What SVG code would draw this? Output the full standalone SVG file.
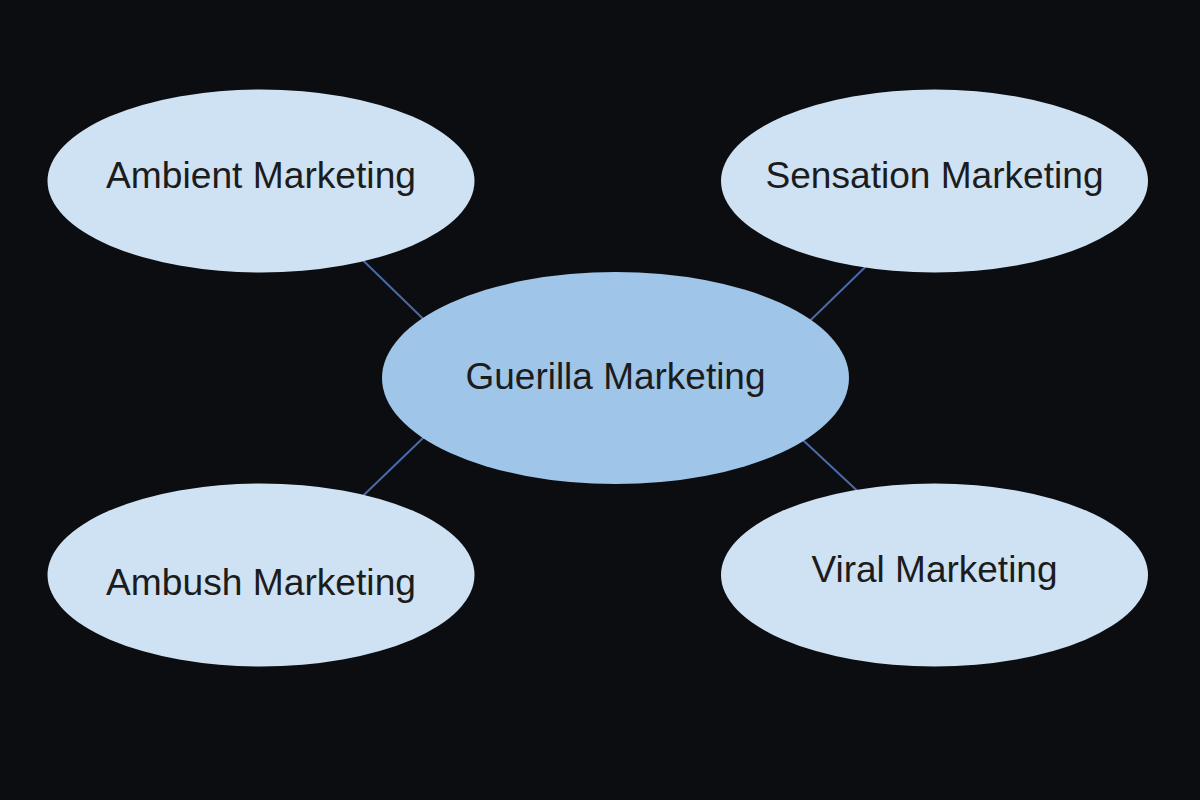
<svg xmlns="http://www.w3.org/2000/svg" width="1200" height="800" viewBox="0 0 1200 800">
<style>
.bg{fill:#0c0d10}
.leaf{fill:#cfe2f3}
.hub{fill:#9fc5e8}
.lbl{font-family:"Liberation Sans",Arial,sans-serif;font-size:36px;fill:#1c1c1c;text-anchor:middle}
.edge{stroke:#4a6aa8;stroke-width:2;fill:none}
</style>
<rect class="bg" x="0" y="0" width="1200" height="800"/>
<g id="connectors">
<line class="edge" x1="340" y1="238" x2="450" y2="345"/>
<line class="edge" x1="890" y1="243" x2="785" y2="345"/>
<line class="edge" x1="450" y1="412" x2="340" y2="518"/>
<line class="edge" x1="775" y1="414" x2="880" y2="512"/>
</g>
<g id="node-center">
<ellipse class="hub" cx="615.5" cy="378" rx="233.5" ry="106"/>
<text class="lbl" x="615.5" y="389" textLength="300" lengthAdjust="spacingAndGlyphs">Guerilla Marketing</text>
</g>
<g id="node-ambient">
<ellipse class="leaf" cx="261" cy="181" rx="213.5" ry="91.5"/>
<text class="lbl" x="261" y="188" textLength="310" lengthAdjust="spacingAndGlyphs">Ambient Marketing</text>
</g>
<g id="node-sensation">
<ellipse class="leaf" cx="934.5" cy="181" rx="213.5" ry="91.5"/>
<text class="lbl" x="934.5" y="188" textLength="338" lengthAdjust="spacingAndGlyphs">Sensation Marketing</text>
</g>
<g id="node-ambush">
<ellipse class="leaf" cx="261" cy="575" rx="213.5" ry="91.5"/>
<text class="lbl" x="261" y="595" textLength="310" lengthAdjust="spacingAndGlyphs">Ambush Marketing</text>
</g>
<g id="node-viral">
<ellipse class="leaf" cx="934.5" cy="575" rx="213.5" ry="91.5"/>
<text class="lbl" x="934.5" y="582" textLength="246" lengthAdjust="spacingAndGlyphs">Viral Marketing</text>
</g>
</svg>
